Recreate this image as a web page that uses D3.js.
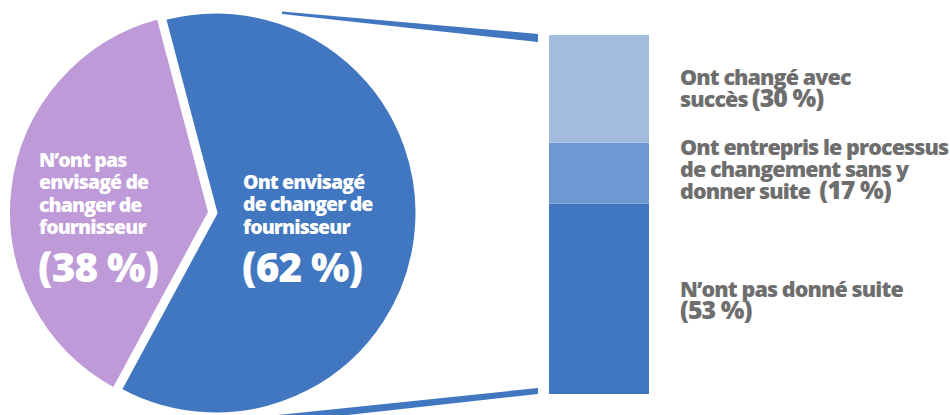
<!DOCTYPE html>
<html>
<head>
<meta charset="utf-8">
<script src="https://cdn.jsdelivr.net/npm/d3@7"></script>
<style>
  html, body { margin: 0; padding: 0; background: #ffffff; }
  svg { display: block; }
  text { font-family: "Open Sans", Lato, sans-serif; }
</style>
</head>
<body>
<svg id="chart" width="950" height="415"></svg>
<script>
// Share of respondents who considered switching supplier
const pieCategories = ["Ont envisagé de changer de fournisseur", "N’ont pas envisagé de changer de fournisseur"];
const pieValues = [62, 38];
const pieLabelLines = [
  ["Ont envisagé", "de changer de", "fournisseur"],
  ["N’ont pas", "envisagé de", "changer de", "fournisseur"]
];

// Breakdown of those who considered it (stacked from bottom to top)
const barCategories = ["N’ont pas donné suite", "Ont entrepris le processus de changement sans y donner suite", "Ont changé avec succès"];
const barValues = [53, 17, 30];
const barLabelLines = [
  ["N’ont pas donné suite"],
  ["Ont entrepris le processus", "de changement sans y", "donner suite"],
  ["Ont changé avec", "succès"]
];

const pieColors = ["#4077c0", "#bf9ad9"];
const barColors = ["#4077c0", "#6e99d3", "#a2bcdf"];
const labelGray = "#6e6e6e";

const svg = d3.select("#chart");

// ---- Pie ----
const cx = 216, cy = 213, R = 201;
const startDeg = -14.8;
const pie = d3.pie().sort(null)
  .startAngle(startDeg * Math.PI / 180)
  .endAngle(startDeg * Math.PI / 180 + 2 * Math.PI);
const arc = d3.arc().innerRadius(0).outerRadius(R);
const arcs = pie(pieValues);
const explode = [0, 6.5];

const pieG = svg.append("g").attr("transform", `translate(${cx},${cy})`);
pieG.selectAll("path.slice")
  .data(arcs)
  .join("path")
  .attr("class", "slice")
  .attr("d", arc)
  .attr("fill", (d, i) => pieColors[i])
  .attr("stroke", "#ffffff")
  .attr("stroke-width", 3)
  .attr("stroke-linejoin", "miter")
  .attr("transform", (d, i) => {
    const mid = (d.startAngle + d.endAngle) / 2;
    return `translate(${Math.sin(mid) * explode[i]},${-Math.cos(mid) * explode[i]})`;
  });

// ---- Stacked bar ----
const barX0 = 549, barW = 100;
const y = d3.scaleLinear().domain([0, 100]).range([394, 35]);
const stacked = [];
let acc = 0;
barValues.forEach((v, i) => { stacked.push({ v, i, y0: acc, y1: acc + v }); acc += v; });

svg.append("g").selectAll("rect")
  .data(stacked)
  .join("rect")
  .attr("x", barX0)
  .attr("width", barW)
  .attr("y", d => y(d.y1))
  .attr("height", d => y(d.y0) - y(d.y1))
  .attr("fill", d => barColors[d.i]);

// ---- Connectors between pie and bar ----
const connEnd = barX0 - 11;
const topConn = [
  [cx + 66, y(100) - 23.5], [connEnd, y(100) - 1], [connEnd, y(100) + 7], [cx + 66, y(100) - 21]
];
const botConn = [
  [cx + 14, y(0) + 26], [connEnd, y(0) - 6], [connEnd, y(0)], [cx + 14, y(0) + 34]
];
svg.append("g").selectAll("path")
  .data([topConn, botConn])
  .join("path")
  .attr("d", d => d3.line()(d) + "Z")
  .attr("fill", pieColors[0]);

// ---- Pie labels ----
function pieLabel(x, yTop, lines, pct) {
  const t = svg.append("text").attr("fill", "#ffffff").attr("font-weight", 800)
    .attr("letter-spacing", "-0.9");
  lines.forEach((ln, k) => {
    t.append("tspan").attr("x", x).attr("y", yTop + k * 22.3)
      .attr("font-size", 19.5).text(ln);
  });
  t.append("tspan").attr("x", x - 1).attr("y", yTop + (lines.length - 1) * 22.3 + 48)
    .attr("font-size", 40.5).attr("letter-spacing", "-0.9").text(`(${pct} %)`);
}
pieLabel(cx + 27, 189, pieLabelLines[0], pieValues[0]);
pieLabel(cx - 177, 167, pieLabelLines[1], pieValues[1]);

// ---- Bar labels ----
const labelX = barX0 + barW + 31;
const labelFirstBaseline = [297, 155, 85];
const lineStep = 22;
stacked.forEach(d => {
  const lines = barLabelLines[d.i];
  const t = svg.append("text").attr("fill", labelGray).attr("font-weight", 800)
    .attr("letter-spacing", "-0.9");
  const base = labelFirstBaseline[d.i];
  lines.forEach((ln, k) => {
    t.append("tspan").attr("x", labelX).attr("y", base + k * lineStep)
      .attr("font-size", 21.5).text(ln);
  });
  const pctText = `(${d.v} %)`;
  if (d.i === 0) {
    t.append("tspan").attr("x", labelX).attr("y", base + lines.length * lineStep)
      .attr("font-size", 25).attr("letter-spacing", "-1").text(pctText);
  } else {
    t.append("tspan").attr("dx", d.i === 1 ? 9 : 4)
      .attr("font-size", 25).attr("letter-spacing", "-1").text(pctText);
  }
});
</script>
</body>
</html>
